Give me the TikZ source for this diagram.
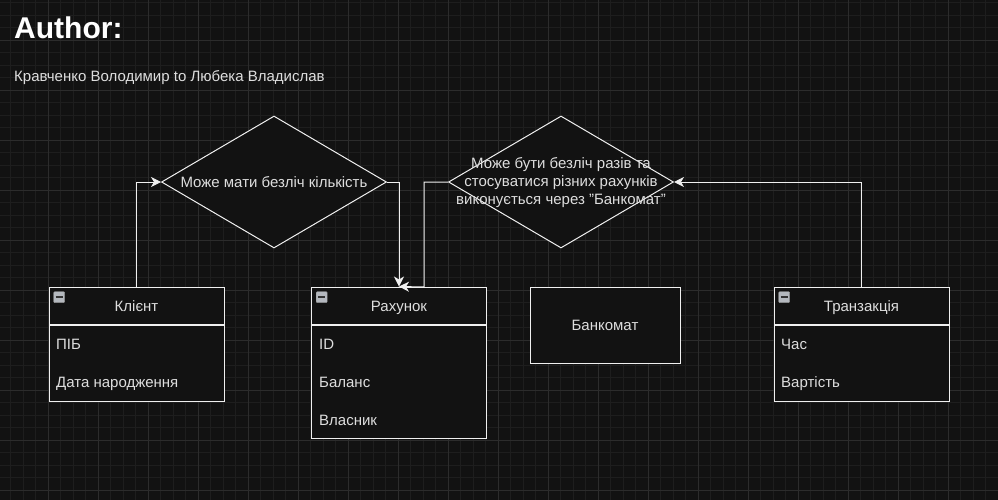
\documentclass[tikz,border=0pt]{standalone}
\usepackage{fontspec}
\setmainfont{Liberation Sans}
\usepackage{tikz}
\usetikzlibrary{positioning}
\usetikzlibrary{shapes.geometric}
\usetikzlibrary{arrows.meta}
\definecolor{bgColor}{HTML}{121212}
\definecolor{gridColor}{HTML}{1E1E1E}
\definecolor{majorGridColor}{HTML}{2C2C2C}
\definecolor{lineColor}{HTML}{F0F0F0}
\definecolor{textColor}{HTML}{DEDEDE}
\definecolor{buttonColor}{HTML}{B4B8BE}

\begin{document}
\begin{tikzpicture}[x=1pt, y=-1pt,
    every node/.style={text=textColor, font=\fontsize{15}{18}\selectfont},
    classhead/.style={draw=lineColor, fill=bgColor, line width=1pt, minimum width=175pt, minimum height=37pt, inner sep=0pt, text height=11pt, text depth=0pt},
    classbody/.style={draw=lineColor, fill=bgColor, line width=1pt, minimum width=175pt, inner sep=0pt},
    attr/.style={anchor=base west, inner sep=0pt},
    decision/.style={diamond, draw=lineColor, fill=bgColor, line width=1pt, minimum width=225pt, minimum height=132pt, inner sep=0pt},
    collapse/.style={draw=gray!80, fill=buttonColor, rounded corners=1pt, minimum width=11pt, minimum height=11pt, inner sep=0pt, anchor=north west,
      path picture={\draw[line width=2pt, black!80] ([xshift=2pt]path picture bounding box.west) -- ([xshift=-2pt]path picture bounding box.east);}},
    link/.style={draw=lineColor, line width=1pt, -{Stealth[length=10pt, width=10pt, inset=3pt]}}]
  % background and grid
  \fill[bgColor] (0,0) rectangle (998,500);
  \useasboundingbox (0,0) rectangle (998,500);
  \foreach \x in {-2,10.5,...,1000} \draw[gridColor, line width=0.8pt] (\x,0) -- (\x,500);
  \foreach \y in {2.5,15,...,500} \draw[gridColor, line width=0.8pt] (0,\y) -- (998,\y);
  \foreach \x in {-2,48,...,1000} \draw[majorGridColor, line width=0.8pt] (\x,0) -- (\x,500);
  \foreach \y in {40,90,...,500} \draw[majorGridColor, line width=0.8pt] (0,\y) -- (998,\y);

  % header
  \node[anchor=base west, inner sep=0pt, text=white, font=\fontsize{30}{36}\selectfont\bfseries] (author) at (14,39) {Author:};
  \node[anchor=base west, inner sep=0pt] (names) at (14,82) {Кравченко Володимир to Любека Владислав};

  % decisions
  \node[decision] (d1) at (274,182) {};
  \node (d1text) at (274,182) {Може мати безліч кількість};
  \node[decision] (d2) at (561,182) {};
  \node[align=center, font=\fontsize{15}{18}\selectfont] (d2text) at (561,183) {Може бути безліч разів та\\стосуватися різних рахунків\\виконується через "Банкомат"};

  % Клієнт
  \node[classhead] (klient) at (136.5,305.5) {Клієнт};
  \node[classbody, minimum height=76pt, below=0pt of klient] (klientbody) {};
  \node[collapse] (klientbtn) at ([shift={(5pt,-5pt)}]klient.north west) {};
  \node[attr] (klientpib) at (56,349) {ПІБ};
  \node[attr] (klientdata) at (56,387) {Дата народження};

  % Рахунок
  \node[classhead] (rahunok) at (399,305.5) {Рахунок};
  \node[classbody, minimum height=113pt, below=0pt of rahunok] (rahunokbody) {};
  \node[collapse] (rahunokbtn) at ([shift={(5pt,-5pt)}]rahunok.north west) {};
  \node[attr] (rahunokid) at (319,349) {ID};
  \node[attr] (rahunokbal) at (319,387) {Баланс};
  \node[attr] (rahunokvl) at (319,425) {Власник};

  % Банкомат
  \node[draw=lineColor, fill=bgColor, line width=1pt, minimum width=150pt, minimum height=76pt] (bankomat) at (605,325) {Банкомат};

  % Транзакція
  \node[classhead] (tranz) at (861.5,305.5) {Транзакція};
  \node[classbody, minimum height=76pt, below=0pt of tranz] (tranzbody) {};
  \node[collapse] (tranzbtn) at ([shift={(5pt,-5pt)}]tranz.north west) {};
  \node[attr] (tranzchas) at (781,349) {Час};
  \node[attr] (tranzvart) at (781,387) {Вартість};

  % connectors
  \coordinate (rahCorner) at (424,287);
  \draw[link] (klient.north) |- (d1.west);
  \draw[link] (d1.east) -| (rahunok.north);
  \draw[link] (d2.west) -| (rahCorner) -- (rahunok.north);
  \draw[link] (tranz.north) |- (d2.east);
\end{tikzpicture}
\end{document}
